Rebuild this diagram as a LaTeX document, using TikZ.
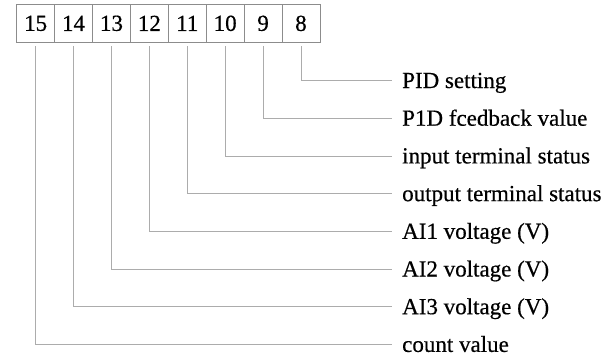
\documentclass[tikz,border=0pt]{standalone}
\usepackage{fontspec}
\setmainfont{Liberation Serif}
\newfontfamily\scanfont[FakeBold=0.5]{Liberation Serif}

\begin{document}
\begin{tikzpicture}[
  x=1pt, y=-1pt,
  bit/.style={draw=gray!90, line width=0.8pt, inner sep=0pt, minimum width=37.9pt, minimum height=38.7pt, font=\scanfont\fontsize{23}{25}\selectfont},
  field/.style={anchor=west, inner xsep=10pt, inner ysep=0pt, text height=15pt, text depth=0pt, font=\scanfont\fontsize{23}{25}\selectfont},
  wire/.style={draw=gray!65, line width=0.8pt}
]
  \useasboundingbox (0,0) rectangle (616,359);

  % Casillas de los bits 15 ... 8
  \node[bit] (b15) at (35.65,23.35) {15};
  \node[bit] (b14) at (73.55,23.35) {14};
  \node[bit] (b13) at (111.45,23.35) {13};
  \node[bit] (b12) at (149.35,23.35) {12};
  \node[bit] (b11) at (187.25,23.35) {11};
  \node[bit] (b10) at (225.15,23.35) {10};
  \node[bit] (b9) at (263.05,23.35) {9};
  \node[bit] (b8) at (300.95,23.35) {8};

  % Textos de cada bit
  \node[field] (f8) at (392,80.5) {PID setting};
  \node[field] (f9) at (392,118.2) {P1D fcedback value};
  \node[field] (f10) at (392,155.9) {input terminal status};
  \node[field] (f11) at (392,193.6) {output terminal status};
  \node[field] (f12) at (392,231.3) {AI1 voltage (V)};
  \node[field] (f13) at (392,269.0) {AI2 voltage (V)};
  \node[field] (f14) at (392,306.7) {AI3 voltage (V)};
  \node[field] (f15) at (392,344.4) {count value};

  % Lineas desde cada casilla hasta su texto
  \draw[wire] ([yshift=-3.3pt]b8.south) |- (f8.west);
  \draw[wire] ([yshift=-3.3pt]b9.south) |- (f9.west);
  \draw[wire] ([yshift=-3.3pt]b10.south) |- (f10.west);
  \draw[wire] ([yshift=-3.3pt]b11.south) |- (f11.west);
  \draw[wire] ([yshift=-3.3pt]b12.south) |- (f12.west);
  \draw[wire] ([yshift=-3.3pt]b13.south) |- (f13.west);
  \draw[wire] ([yshift=-3.3pt]b14.south) |- (f14.west);
  \draw[wire] ([yshift=-3.3pt]b15.south) |- (f15.west);

\end{tikzpicture}
\end{document}
